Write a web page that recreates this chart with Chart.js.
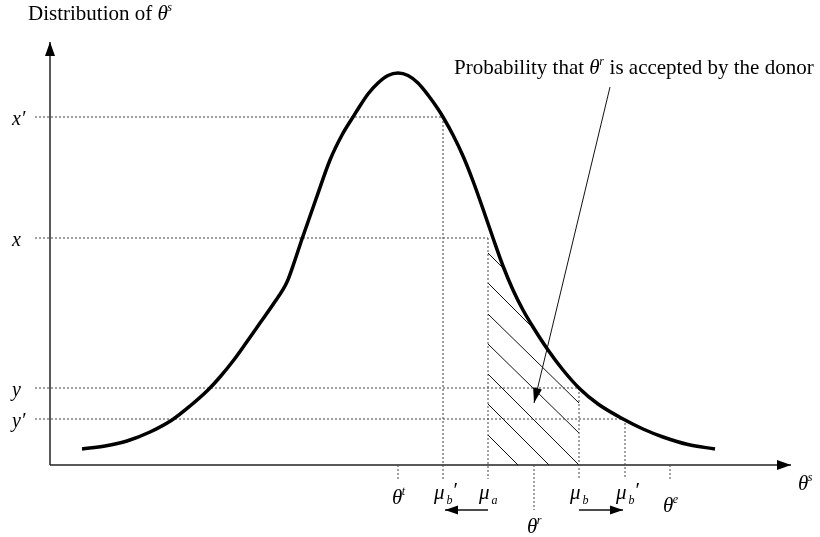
<!DOCTYPE html>
<html><head><meta charset="utf-8">
<script src="https://cdn.jsdelivr.net/npm/chart.js@4/dist/chart.umd.min.js"></script>
<style>html,body{margin:0;padding:0;background:#fff}#wrap{width:820px;height:537px;position:relative}</style>
</head><body><div id="wrap"><canvas id="c"></canvas></div>
<script>
// Density curve of theta^s (x = position on the theta^s axis, y = density height)
const curveX = [32, 55, 77, 100, 122, 140, 158, 170, 183, 196, 210, 224, 237, 245, 252, 266, 280, 292, 303, 308, 318, 328, 338, 348, 358, 368, 378, 388, 393, 403, 413, 423, 433, 443, 453, 463, 473, 483, 498, 513, 530, 548, 575, 593, 613, 638, 665];
const curveY = [16, 19, 24, 33, 45, 59, 75, 88, 104, 122, 142, 162, 183, 205, 226, 266, 305, 330, 348, 356, 371, 382, 389.5, 392, 389.5, 382, 370, 356, 348, 330, 309, 284, 256, 227, 199, 175, 155, 138, 115, 95, 76, 61, 45, 36, 28, 20.5, 16];

// Horizontal reference levels on the density axis
const levelLabels = ["x′", "x", "y", "y′"];
const levelValues = [348, 227, 77, 46];
const levelEndX = [393, 438, 529, 575];

// Marks on the theta^s axis
const markerBase = ["θ", "μ", "μ", "θ", "μ", "μ", "θ"];
const markerSup = ["t", "", "", "r", "", "", "e"];
const markerSub = ["", "b", "a", "", "b", "b", ""];
const markerPrime = [false, true, false, false, false, true, false];
const markerX = [348, 393, 438, 484, 529, 575, 620];
const markerTopLevel = [null, 0, 1, null, 2, 3, null];
const markerDrop = [14, 14, 14, 45, 14, 14, 14];

// Hatched region (segments)
const hatchX0 = [438, 438, 438, 438, 438, 438, 438];
const hatchY0 = [212, 182, 151, 121, 91, 61, 30];
const hatchX1 = [453, 480, 529, 529, 529, 499, 468];
const hatchY1 = [197, 140, 62, 32, 0, 0, 0];

// Axes extents and annotation pointer
const xAxisEnd = 741;
const yAxisEnd = 423;
const pointerFrom = [560, 378];
const pointerTo = [484, 62];
const shiftArrowY = -45;

const SERIF = '"Liberation Serif", "Times New Roman", serif';
const datasets = [];
function seg(x0, y0, x1, y1, style) {
  datasets.push(Object.assign({
    data: [{x: x0, y: y0}, {x: x1, y: y1}], showLine: true, pointRadius: 0,
    borderColor: '#000', borderWidth: 1, fill: false
  }, style || {}));
}
const dotted = {borderColor: '#444', borderWidth: 1, borderDash: [2, 2]};

// curve
datasets.push({
  data: curveX.map((x, i) => ({x, y: curveY[i]})), showLine: true, pointRadius: 0,
  borderColor: '#000', borderWidth: 3.5, cubicInterpolationMode: 'monotone', fill: false
});
// level lines
levelValues.forEach((v, i) => seg(-15, v, levelEndX[i], v, dotted));
// marker verticals
markerX.forEach((x, i) => {
  const top = markerTopLevel[i] === null ? 0 : levelValues[markerTopLevel[i]];
  seg(x, top, x, -markerDrop[i], dotted);
});
// hatch
hatchX0.forEach((x, i) => seg(x, hatchY0[i], hatchX1[i], hatchY1[i], {borderColor: '#111', borderWidth: 1}));
// axes
seg(0, 0, xAxisEnd, 0, {borderColor: '#222', borderWidth: 1.5});
seg(0, 0, 0, yAxisEnd, {borderColor: '#222', borderWidth: 1.5});
// pointer
seg(pointerFrom[0], pointerFrom[1], pointerTo[0], pointerTo[1], {borderColor: '#111', borderWidth: 1});
// shift arrows
seg(markerX[2], shiftArrowY, markerX[1] + 2, shiftArrowY, {borderColor: '#111', borderWidth: 1.3});
seg(markerX[4], shiftArrowY, markerX[5] - 2, shiftArrowY, {borderColor: '#111', borderWidth: 1.3});

function head(ctx, x1, y1, x2, y2, len, hw) {
  const dx = x2 - x1, dy = y2 - y1, L = Math.hypot(dx, dy);
  const ux = dx / L, uy = dy / L;
  const bx = x2 - ux * len, by = y2 - uy * len;
  ctx.beginPath();
  ctx.moveTo(x2, y2);
  ctx.lineTo(bx - uy * hw, by + ux * hw);
  ctx.lineTo(bx + uy * hw, by - ux * hw);
  ctx.closePath();
  ctx.fill();
}
function drawMath(ctx, x, y, base, sup, sub, prime, size) {
  const small = Math.round(size * 0.58);
  ctx.font = `italic ${size}px ${SERIF}`;
  ctx.fillText(base, x, y);
  let cx = x + ctx.measureText(base).width;
  if (sup) {
    ctx.font = `italic ${small}px ${SERIF}`;
    ctx.fillText(sup, cx - 0.5, y - size * 0.42);
    cx += ctx.measureText(sup).width;
  }
  if (sub) {
    ctx.font = `italic ${small}px ${SERIF}`;
    ctx.fillText(sub, cx + 2, y + size * 0.22);
    cx += ctx.measureText(sub).width + 2;
  }
  if (prime) {
    ctx.font = `${size}px ${SERIF}`;
    ctx.fillText('′', cx + 1, y - 2);
    cx += ctx.measureText('′').width + 1;
  }
  return cx - x;
}

const overlay = {
  id: 'overlay',
  afterDatasetsDraw(chart) {
    const ctx = chart.ctx;
    const X = v => chart.scales.x.getPixelForValue(v);
    const Y = v => chart.scales.y.getPixelForValue(v);
    ctx.save();
    ctx.fillStyle = '#000';
    ctx.textBaseline = 'alphabetic';
    ctx.textAlign = 'left';
    // arrowheads
    head(ctx, X(0), Y(0), X(xAxisEnd), Y(0), 14, 5);
    head(ctx, X(0), Y(0), X(0), Y(yAxisEnd), 14, 5);
    head(ctx, X(pointerFrom[0]), Y(pointerFrom[1]), X(pointerTo[0]), Y(pointerTo[1]), 15, 4.5);
    head(ctx, X(markerX[2]), Y(shiftArrowY), X(markerX[1] + 2), Y(shiftArrowY), 13, 4.5);
    head(ctx, X(markerX[4]), Y(shiftArrowY), X(markerX[5] - 2), Y(shiftArrowY), 13, 4.5);

    // title
    ctx.font = `21px ${SERIF}`;
    let t = 'Distribution of ';
    ctx.fillText(t, X(-22), 20);
    let w = ctx.measureText(t).width;
    drawMath(ctx, X(-22) + w, 20, 'θ', 's', '', false, 21);

    // annotation
    ctx.font = `21px ${SERIF}`;
    t = 'Probability that ';
    const ax = X(404), ay = 74;
    ctx.fillText(t, ax, ay);
    w = ctx.measureText(t).width;
    w += drawMath(ctx, ax + w, ay, 'θ', 'r', '', false, 21);
    ctx.font = `21px ${SERIF}`;
    ctx.fillText(' is accepted by the donor', ax + w, ay);

    // level labels
    levelLabels.forEach((lab, i) => {
      ctx.font = `italic 20px ${SERIF}`;
      ctx.fillText(lab, 12, Y(levelValues[i]) + 8);
    });

    // marker labels
    const dy = [39, 34, 34, 68, 34, 34, 47];
    const dx = [-6, -9, -9, -7, -9, -9, -7];
    markerX.forEach((x, i) => {
      drawMath(ctx, X(x) + dx[i], Y(0) + dy[i], markerBase[i], markerSup[i], markerSub[i], markerPrime[i], 21);
    });
    // axis label
    drawMath(ctx, X(xAxisEnd) + 7, Y(0) + 25, 'θ', 's', '', false, 21);
    ctx.restore();
  }
};

new Chart(document.getElementById('c'), {
  type: 'scatter',
  data: {datasets},
  options: {
    responsive: true, maintainAspectRatio: false, animation: false, events: [],
    layout: {padding: 0},
    plugins: {legend: {display: false}, tooltip: {enabled: false}},
    scales: {
      x: {type: 'linear', min: -50, max: 770, display: false},
      y: {type: 'linear', min: -72, max: 465, display: false}
    }
  },
  plugins: [overlay]
});
</script></body></html>
